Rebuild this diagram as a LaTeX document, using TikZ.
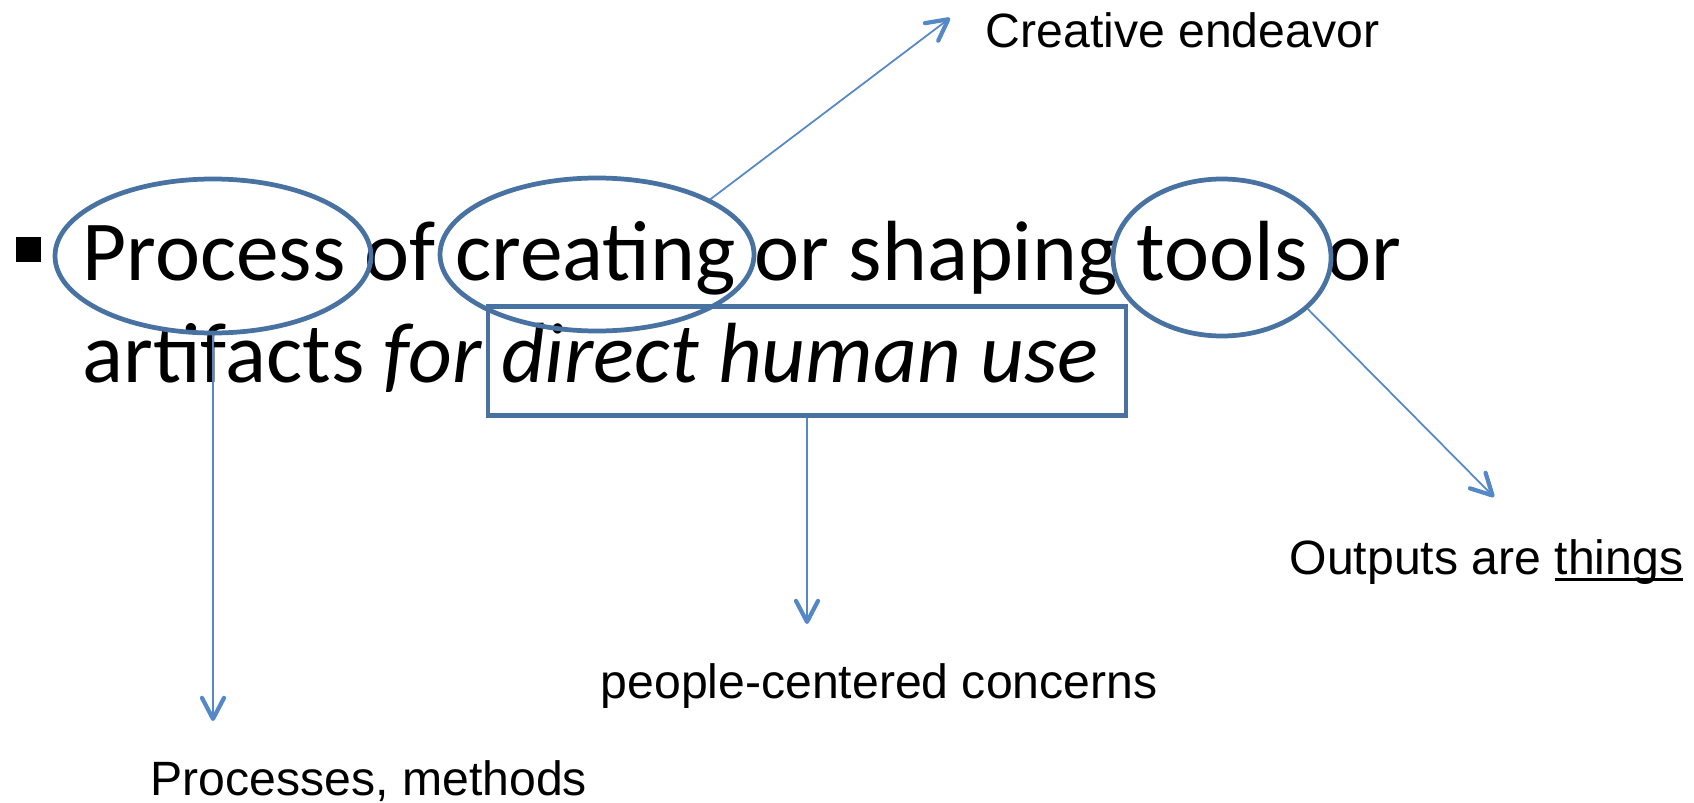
\documentclass[tikz,border=0pt]{standalone}
\usepackage{fontspec}
\setmainfont{Carlito}
\newfontfamily\labelfont{Liberation Sans}
\usetikzlibrary{arrows.meta,shapes.geometric}
\definecolor{ringblue}{RGB}{72,114,161}
\definecolor{arrowblue}{RGB}{84,136,198}
\newcommand{\ulthing}[1]{\setbox0\hbox{#1}\rlap{\rule[-0.15em]{\wd0}{0.065em}}\box0}

\begin{document}
\begin{tikzpicture}[x=0.1mm, y=-0.1mm,
	ring/.style = {draw=ringblue, line width=1.35pt, ellipse, inner sep=0pt},
	markbox/.style = {draw=ringblue, line width=1.35pt, inner sep=0pt},
	pointer/.style = {draw=arrowblue, line width=0.5pt, -{Straight Barb[length=2.1mm, width=2.2mm, line width=1.2pt, round]}},
	bodytext/.style = {inner sep=0pt, anchor=base west, font=\fontsize{24.3}{28}\selectfont},
	tag/.style = {inner sep=0pt, anchor=base west, font=\labelfont\fontsize{13.7}{16}\selectfont},
]
	\useasboundingbox (0,0) rectangle (1694,802);
	
	\node[fill, minimum size=2.5mm, inner sep=0pt] (bullet) at (28.5,249.5) {};
	\node[bodytext] (l1) at (82,280) {Process of creating or shaping tools or};
	\node[bodytext] (l2) at (82,382) {artifacts \textit{for direct human use}};
	
	\node[ring, minimum width=31.6mm, minimum height=15.4mm] (eProc) at (213,256) {};
	\node[ring, minimum width=31.4mm, minimum height=15.3mm] (eCreate) at (597,254.5) {};
	\node[ring, minimum width=21.8mm, minimum height=15.7mm] (eTools) at (1222,257.5) {};
	\node[markbox, minimum width=63.8mm, minimum height=10.9mm] (boxUse) at (807,361) {};
	
	\node[tag] (creative) at (985,48) {Creative endeavor};
	\node[tag] (outputs) at (1289,574) {Outputs are \ulthing{things}};
	\node[tag] (people) at (600,698) {people-centered concerns};
	\node[tag] (methods) at (150,795) {Processes, methods};
	
	\coordinate (tipCreative) at (950,18);
	\coordinate (tipOutputs) at (1494,497);
	\coordinate (tipPeople) at (807,624);
	\coordinate (tipMethods) at (213,721);
	
	\draw[pointer] (eCreate.26) -- (tipCreative);
	\draw[pointer] (eTools.-31) -- (tipOutputs);
	\draw[pointer] (boxUse.south) -- (tipPeople);
	\draw[pointer] (eProc.south) -- (tipMethods);
	
\end{tikzpicture}
\end{document}
